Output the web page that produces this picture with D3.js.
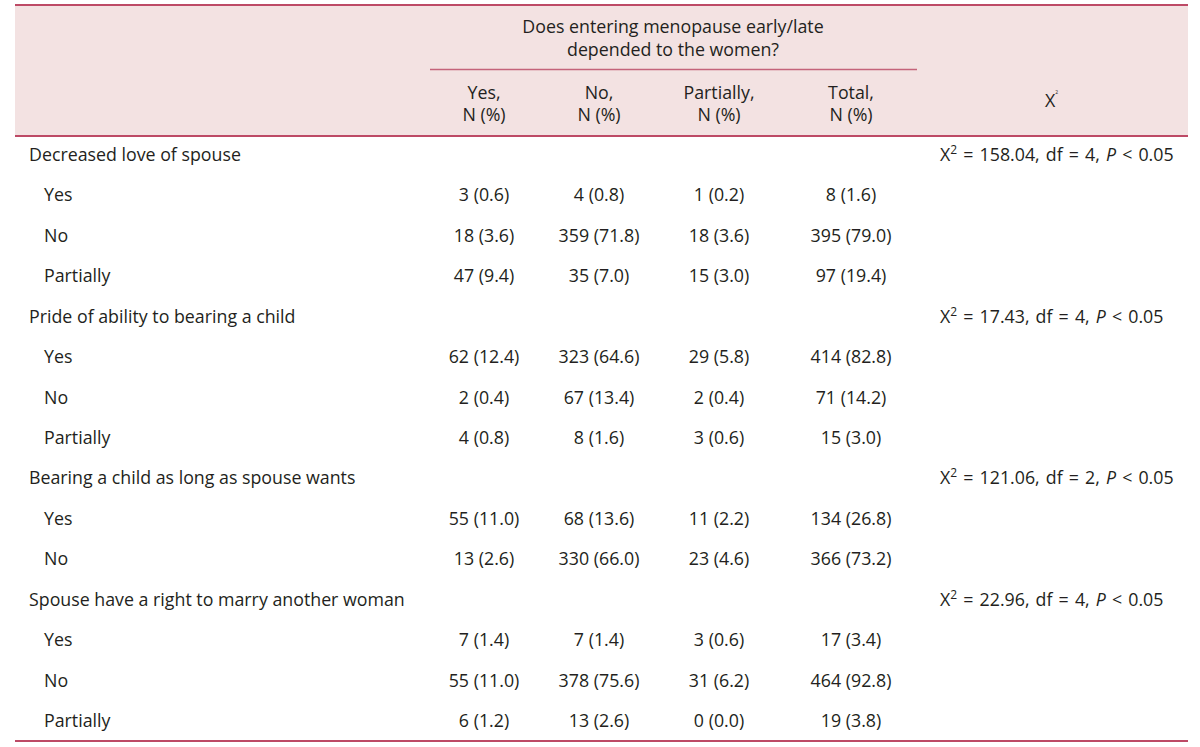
<!DOCTYPE html>
<html><head><meta charset="utf-8">
<script src="https://cdn.jsdelivr.net/npm/d3@7"></script>
<style>
html,body{margin:0;padding:0;background:#fff;}
text{font-family:"Open Sans","Noto Sans",sans-serif;fill:#231f20;}
</style></head><body>
<svg id="chart" width="1200" height="747"></svg>
<script>
// ---- data ----
const headerTitle = ["Does entering menopause early/late", "depended to the women?"];
const columns = ["Yes,", "No,", "Partially,", "Total,"];
const columnSub = "N (%)";
const groups = ["Decreased love of spouse", "Pride of ability to bearing a child", "Bearing a child as long as spouse wants", "Spouse have a right to marry another woman"];
const chiValues = ["158.04", "17.43", "121.06", "22.96"];
const chiDf = ["4", "4", "2", "4"];
const rowLabels = [
  ["Yes", "No", "Partially"],
  ["Yes", "No", "Partially"],
  ["Yes", "No"],
  ["Yes", "No", "Partially"]
];
const counts = [
  [[3, 4, 1, 8], [18, 359, 18, 395], [47, 35, 15, 97]],
  [[62, 323, 29, 414], [2, 67, 2, 71], [4, 8, 3, 15]],
  [[55, 68, 11, 134], [13, 330, 23, 366]],
  [[7, 7, 3, 17], [55, 378, 31, 464], [6, 13, 0, 19]]
];
const percents = [
  [["0.6", "0.8", "0.2", "1.6"], ["3.6", "71.8", "3.6", "79.0"], ["9.4", "7.0", "3.0", "19.4"]],
  [["12.4", "64.6", "5.8", "82.8"], ["0.4", "13.4", "0.4", "14.2"], ["0.8", "1.6", "0.6", "3.0"]],
  [["11.0", "13.6", "2.2", "26.8"], ["2.6", "66.0", "4.6", "73.2"]],
  [["1.4", "1.4", "0.6", "3.4"], ["11.0", "75.6", "6.2", "92.8"], ["1.2", "2.6", "0.0", "3.8"]]
];

// ---- build rows ----
const rows = [];
groups.forEach((g, gi) => {
  rows.push({type: "group", label: g, gi});
  rowLabels[gi].forEach((r, ri) => rows.push({type: "sub", label: r, gi, ri}));
});

const svg = d3.select("#chart");
const FS = 17.8;
const tLeft = 15, tRight = 1188, tTop = 5, headBottom = 136, tBottom = 741;
const lineColor = "#bd4a66";

// header background
svg.append("rect").attr("x", tLeft).attr("y", tTop).attr("width", tRight - tLeft).attr("height", headBottom - tTop).attr("fill", "#f3e2e2");

// scales
const yScale = d3.scalePoint().domain(d3.range(rows.length)).range([155, 721]);
const xScale = d3.scaleOrdinal().domain(columns).range([484, 599, 719, 851]);

// header text
svg.selectAll("text.ht").data(headerTitle).join("text").attr("class", "ht")
  .attr("x", 673).attr("y", (d, i) => 33 + i * 23).attr("text-anchor", "middle")
  .attr("font-size", FS).text(d => d);
svg.append("line").attr("x1", 430).attr("x2", 917).attr("y1", 69.5).attr("y2", 69.5)
  .attr("stroke", "#c4637a").attr("stroke-width", 1.5);
const hc = svg.selectAll("g.hc").data(columns).join("g").attr("class", "hc");
hc.append("text").attr("x", d => xScale(d)).attr("y", 99).attr("text-anchor", "middle").attr("font-size", FS).text(d => d);
hc.append("text").attr("x", d => xScale(d)).attr("y", 121).attr("text-anchor", "middle").attr("font-size", FS).text(columnSub);
const xh = svg.append("text").attr("x", 1045).attr("y", 107).attr("font-size", FS);
xh.append("tspan").text("X");
xh.append("tspan").attr("dy", -13).attr("font-size", 5).text("2");

// borders
[tTop, headBottom, tBottom].forEach(yy => {
  svg.append("line").attr("x1", tLeft).attr("x2", tRight).attr("y1", yy).attr("y2", yy)
    .attr("stroke", lineColor).attr("stroke-width", 1.8);
});

// body rows
const rg = svg.selectAll("g.row").data(rows).join("g").attr("class", "row")
  .attr("transform", (d, i) => `translate(0,${yScale(i) + 6})`);
rg.append("text").attr("x", d => d.type === "group" ? 29 : 44).attr("font-size", FS).text(d => d.label);

rg.filter(d => d.type === "group").each(function(d) {
  const t = d3.select(this).append("text").attr("x", 940).attr("font-size", FS)
    .attr("word-spacing", 1.5).style("white-space", "pre");
  t.append("tspan").text("X");
  t.append("tspan").attr("dy", -7).attr("font-size", 12).text("2");
  t.append("tspan").attr("dy", 7).text(` = ${chiValues[d.gi]}, df = ${chiDf[d.gi]}, `);
  t.append("tspan").attr("font-style", "italic").text("P");
  t.append("tspan").text(" < 0.05");
});

rg.filter(d => d.type === "sub").each(function(d) {
  d3.select(this).selectAll("text.v").data(columns).join("text").attr("class", "v")
    .attr("x", c => xScale(c)).attr("text-anchor", "middle").attr("font-size", FS)
    .text((c, ci) => `${counts[d.gi][d.ri][ci]} (${percents[d.gi][d.ri][ci]})`);
});
</script>
</body></html>
